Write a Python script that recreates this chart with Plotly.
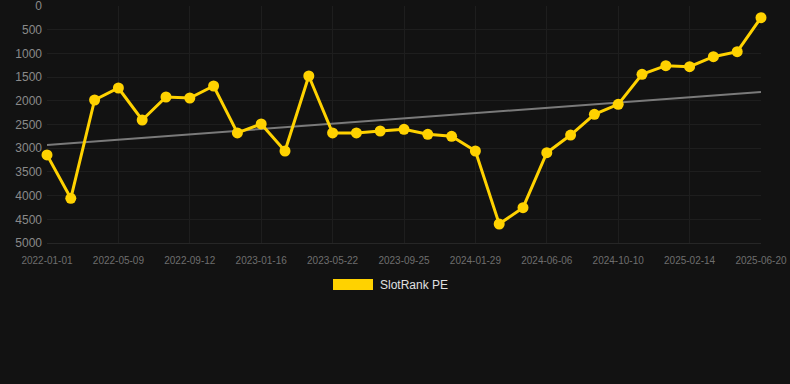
import plotly.graph_objects as go

dates = ["2022-01-01", "2022-02-12", "2022-03-26", "2022-05-09", "2022-06-20", "2022-08-01",
         "2022-09-12", "2022-10-24", "2022-12-05", "2023-01-16", "2023-02-27", "2023-04-10",
         "2023-05-22", "2023-07-03", "2023-08-14", "2023-09-25", "2023-11-06", "2023-12-18",
         "2024-01-29", "2024-03-11", "2024-04-22", "2024-06-06", "2024-07-18", "2024-08-29",
         "2024-10-10", "2024-11-21", "2025-01-02", "2025-02-14", "2025-03-28", "2025-05-09",
         "2025-06-20"]
ranks = [3143, 4057, 1983, 1730, 2405, 1920, 1941, 1688, 2679, 2489, 3059, 1477,
         2679, 2679, 2637, 2601, 2707, 2749, 3059, 4599, 4255, 3095, 2722, 2285,
         2074, 1441, 1259, 1281, 1070, 964, 247]
trend_dates = [dates[0], dates[-1]]
trend_values = [2930, 1815]
tick_labels = dates[::3]
y_ticks = [0, 500, 1000, 1500, 2000, 2500, 3000, 3500, 4000, 4500, 5000]
series_name = "SlotRank PE"

YELLOW = "#FFD200"
BG = "#121212"
GRID = "#1e1e1e"
FONT = "Liberation Sans, Arial, sans-serif"

fig = go.Figure()
fig.add_trace(go.Scatter(
    x=trend_dates, y=trend_values, mode="lines",
    line=dict(color="#7a7a7a", width=2), hoverinfo="skip", showlegend=False))
fig.add_trace(go.Scatter(
    x=dates, y=ranks, mode="lines+markers", name=series_name,
    line=dict(color=YELLOW, width=3),
    marker=dict(color=YELLOW, size=11), showlegend=False, cliponaxis=False))

fig.update_layout(
    width=790, height=384,
    paper_bgcolor=BG, plot_bgcolor=BG,
    margin=dict(l=47, r=29, t=6, b=141),
    font=dict(family=FONT, color="#888888"),
    xaxis=dict(type="category", categoryorder="array", categoryarray=dates,
               range=[0, len(dates) - 1], tickvals=tick_labels, ticktext=tick_labels,
               showgrid=True, gridcolor=GRID, gridwidth=1, zeroline=False,
               showline=True, linecolor="#262626", ticks="", ticklen=0,
               tickfont=dict(size=10, color="#6e6e6e"), tickangle=0,
               ticklabelstandoff=8, ticklabeloverflow="allow", automargin=False),
    yaxis=dict(range=[5000, 0], tickvals=y_ticks, showgrid=True, gridcolor=GRID,
               zeroline=False, showline=False, ticks="",
               tickfont=dict(size=12, color="#8a8a8a"), ticklabelstandoff=4,
               ticklabeloverflow="allow", automargin=False),
    shapes=[dict(type="rect", xref="paper", yref="paper",
                 x0=(333 - 47) / 714, x1=(373 - 47) / 714,
                 y0=(243 - 290) / 237, y1=(243 - 279) / 237,
                 fillcolor=YELLOW, line=dict(width=0))],
    annotations=[dict(text=series_name, xref="paper", yref="paper",
                      x=(378 - 47) / 714, y=(243 - 284.5) / 237,
                      xanchor="left", yanchor="middle", showarrow=False,
                      font=dict(size=12, color="#e0e0e0", family=FONT))],
)

fig.write_html("out.html", config={"displayModeBar": False},
               post_script="document.body.style.margin='0';document.body.style.background='#121212';")
